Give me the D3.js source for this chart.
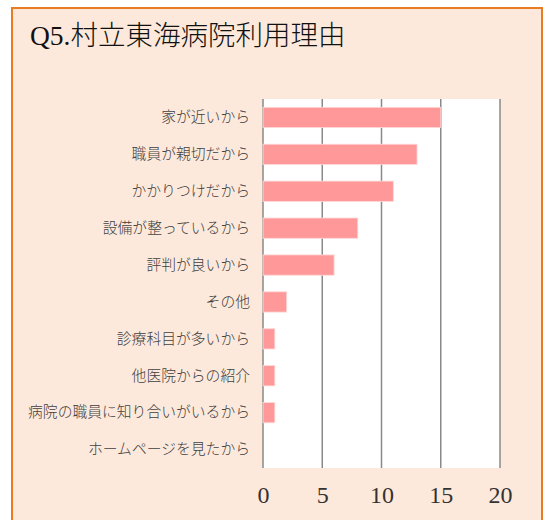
<!DOCTYPE html>
<html>
<head>
<meta charset="utf-8">
<script src="https://cdn.jsdelivr.net/npm/d3@7"></script>
<style>
  body { margin: 0; background: #fff; }
</style>
</head>
<body>
<div id="viz"></div>
<script>
const categories = [
  "家が近いから",
  "職員が親切だから",
  "かかりつけだから",
  "設備が整っているから",
  "評判が良いから",
  "その他",
  "診療科目が多いから",
  "他医院からの紹介",
  "病院の職員に知り合いがいるから",
  "ホームページを見たから"
];
const values = [15, 13, 11, 8, 6, 2, 1, 1, 1, 0];
const xTicks = [0, 5, 10, 15, 20];
const title = "Q5.村立東海病院利用理由";

const width = 544;
const height = 520;
const plot = {left: 263, right: 500, top: 99, bottom: 468};

const svg = d3.select("#viz")
  .append("svg")
  .attr("width", width)
  .attr("height", height);

// outer panel
svg.append("rect")
  .attr("x", 12)
  .attr("y", 8)
  .attr("width", 530)
  .attr("height", 520)
  .attr("fill", "#fde9db")
  .attr("stroke", "#e97b22")
  .attr("stroke-width", 2);

svg.append("text")
  .attr("x", 30)
  .attr("y", 45)
  .attr("font-family", "'Liberation Serif', 'Noto Sans CJK JP', serif")
  .attr("font-size", 27.5)
  .attr("font-weight", 300)
  .attr("fill", "#111")
  .text(title);

const x = d3.scaleLinear()
  .domain([0, 20])
  .range([plot.left, plot.right]);

const y = d3.scaleBand()
  .domain(categories)
  .range([plot.top, plot.bottom])
  .paddingInner(0.45)
  .paddingOuter(0.225);

svg.append("rect")
  .attr("x", plot.left)
  .attr("y", plot.top)
  .attr("width", plot.right - plot.left)
  .attr("height", plot.bottom - plot.top)
  .attr("fill", "#fff");

// gridlines
svg.append("g")
  .selectAll("line")
  .data(xTicks)
  .join("line")
    .attr("x1", d => x(d))
    .attr("x2", d => x(d))
    .attr("y1", plot.top)
    .attr("y2", plot.bottom)
    .attr("stroke", "#898989")
    .attr("stroke-width", 1.5);

// bars
svg.append("g")
  .selectAll("rect")
  .data(categories)
  .join("rect")
    .attr("x", x(0))
    .attr("y", d => y(d))
    .attr("width", (d, i) => x(values[i]) - x(0))
    .attr("height", y.bandwidth())
    .attr("fill", "#ff9999")
    .attr("stroke", "#ffd9d9")
    .attr("stroke-width", 0.8)
    .style("display", (d, i) => values[i] > 0 ? null : "none");

// x axis
const xAxis = d3.axisBottom(x)
  .tickValues(xTicks)
  .tickSize(0)
  .tickPadding(18);

const gx = svg.append("g")
  .attr("transform", `translate(0,${plot.bottom})`)
  .call(xAxis);
gx.select(".domain").remove();
gx.selectAll("text")
  .attr("font-family", "'Liberation Serif', serif")
  .attr("font-size", 24)
  .attr("fill", "#333");

// y axis
const yAxis = d3.axisLeft(y)
  .tickSize(0)
  .tickPadding(13);

const gy = svg.append("g")
  .attr("transform", `translate(${plot.left},0)`)
  .call(yAxis);
gy.select(".domain").remove();
gy.selectAll("text")
  .attr("font-family", "'Noto Sans CJK JP', sans-serif")
  .attr("font-size", 14.8)
  .attr("font-weight", 300)
  .attr("fill", "#404040");
</script>
</body>
</html>
